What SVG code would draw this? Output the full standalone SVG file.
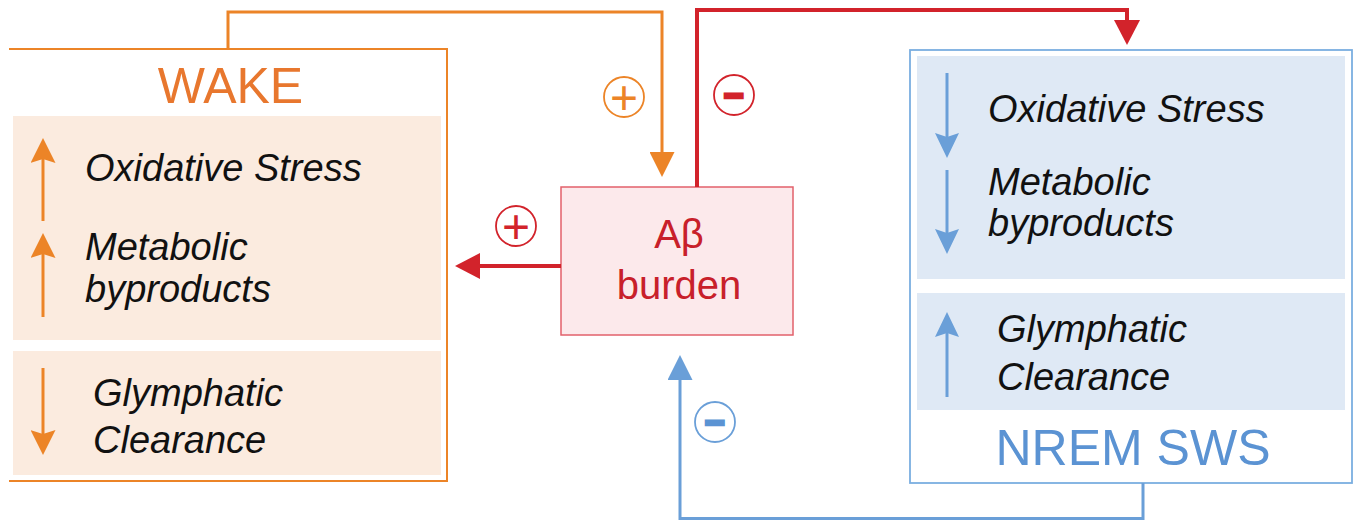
<svg xmlns="http://www.w3.org/2000/svg" width="1355" height="521" viewBox="0 0 1355 521">
  <style>
    .item { font-family: "Liberation Sans", Arial, sans-serif; font-style: italic; font-size: 38px; fill: #111111; }
    .title { font-family: "Liberation Sans", Arial, sans-serif; font-size: 50px; text-anchor: middle; }
    .core { font-family: "Liberation Sans", Arial, sans-serif; font-size: 40px; fill: #c8202a; text-anchor: middle; }
    .sign { font-family: "Liberation Sans", Arial, sans-serif; text-anchor: middle; }
    .badge { fill: #ffffff; stroke-width: 1.8; }
    .conn { fill: none; stroke-linejoin: miter; }
  </style>
  <defs>
    <!-- connector heads: plain triangles, base at the line end -->
    <marker id="head-orange" markerUnits="userSpaceOnUse" viewBox="0 0 25 25" refX="0" refY="12.5" markerWidth="25" markerHeight="25" orient="auto">
      <path d="M0,0 L25,12.5 L0,25 Z" fill="#ec8427"/>
    </marker>
    <marker id="head-red" markerUnits="userSpaceOnUse" viewBox="0 0 25 26" refX="0" refY="13" markerWidth="25" markerHeight="26" orient="auto">
      <path d="M0,0 L25,13 L0,26 Z" fill="#d2232b"/>
    </marker>
    <marker id="head-blue" markerUnits="userSpaceOnUse" viewBox="0 0 25 25" refX="0" refY="12.5" markerWidth="25" markerHeight="25" orient="auto">
      <path d="M0,0 L25,12.5 L0,25 Z" fill="#6a9fd8"/>
    </marker>
    <!-- trend arrows inside the panels: notched heads -->
    <marker id="tick-orange" markerUnits="userSpaceOnUse" viewBox="0 0 25 25" refX="4" refY="12.5" markerWidth="25" markerHeight="25" orient="auto">
      <path d="M25,12.5 L0,0 L4,12.5 L0,25 Z" fill="#ec8427"/>
    </marker>
    <marker id="tick-blue" markerUnits="userSpaceOnUse" viewBox="0 0 25 24" refX="4" refY="12" markerWidth="25" markerHeight="24" orient="auto">
      <path d="M25,12 L0,0 L4,12 L0,24 Z" fill="#6a9fd8"/>
    </marker>
  </defs>

  <!-- WAKE state -->
  <g id="wake">
    <path d="M9,49 H447 V481 H9" fill="none" stroke="#ec8427" stroke-width="2"/>
    <text class="title" x="230.5" y="103" fill="#e8772e">WAKE</text>
    <rect x="13" y="116" width="428" height="224" fill="#fbebdf"/>
    <rect x="13" y="351" width="428" height="124" fill="#fbebdf"/>
    <g stroke="#ec8427" stroke-width="3">
      <line x1="43" y1="221" x2="43" y2="159" marker-end="url(#tick-orange)"/>
      <line x1="43" y1="317" x2="43" y2="254" marker-end="url(#tick-orange)"/>
      <line x1="43" y1="368" x2="43" y2="434" marker-end="url(#tick-orange)"/>
    </g>
    <text class="item" x="85" y="181">Oxidative Stress</text>
    <text class="item" x="85" y="260">Metabolic</text>
    <text class="item" x="85" y="302">byproducts</text>
    <text class="item" x="93" y="406">Glymphatic</text>
    <text class="item" x="93" y="453">Clearance</text>
  </g>

  <!-- amyloid-beta burden -->
  <g id="abeta">
    <rect x="561" y="187" width="232" height="148" fill="#fce9eb" stroke="#e2606b" stroke-width="1.5"/>
    <text class="core" x="679" y="248">Aβ</text>
    <text class="core" x="679" y="299">burden</text>
  </g>

  <!-- NREM slow-wave sleep state -->
  <g id="nrem">
    <rect x="910" y="50" width="442" height="433" fill="#ffffff" stroke="#7aaee0" stroke-width="1.8"/>
    <rect x="917" y="56" width="428" height="223" fill="#dfe9f5"/>
    <rect x="917" y="293" width="428" height="117" fill="#dfe9f5"/>
    <g stroke="#6a9fd8" stroke-width="3">
      <line x1="947" y1="73" x2="947" y2="137" marker-end="url(#tick-blue)"/>
      <line x1="947" y1="170" x2="947" y2="233" marker-end="url(#tick-blue)"/>
      <line x1="947" y1="397" x2="947" y2="333" marker-end="url(#tick-blue)"/>
    </g>
    <text class="item" x="988" y="122">Oxidative Stress</text>
    <text class="item" x="988" y="195">Metabolic</text>
    <text class="item" x="988" y="236">byproducts</text>
    <text class="item" x="997" y="342">Glymphatic</text>
    <text class="item" x="997" y="390">Clearance</text>
    <text class="title" x="1133" y="465" font-size="51" fill="#5b93d3">NREM SWS</text>
  </g>

  <!-- feedback connectors -->
  <g id="connectors">
    <path class="conn" d="M228,49 V12 H662 V152" stroke="#ec8427" stroke-width="3" marker-end="url(#head-orange)"/>
    <path class="conn" d="M697,187 V10 H1127 V20" stroke="#d2232b" stroke-width="4" marker-end="url(#head-red)"/>
    <path class="conn" d="M561,266 H480" stroke="#d2232b" stroke-width="4" marker-end="url(#head-red)"/>
    <path class="conn" d="M1143,483 V518.5 H680 V380" stroke="#6a9fd8" stroke-width="3" marker-end="url(#head-blue)"/>
  </g>

  <!-- sign badges -->
  <g id="sign-wake-plus">
    <circle class="badge" cx="624" cy="97" r="20" stroke="#ec8427"/>
    <text class="sign" x="624" y="114" font-size="48" fill="#ec8427">+</text>
  </g>
  <g id="sign-sleep-minus">
    <circle class="badge" cx="734" cy="95" r="20" stroke="#d2232b"/>
    <text class="sign" x="734" y="107" font-size="34" font-weight="bold" fill="#d2232b" stroke="#d2232b" stroke-width="3">−</text>
  </g>
  <g id="sign-abeta-plus">
    <circle class="badge" cx="516" cy="226" r="20" stroke="#d2232b"/>
    <text class="sign" x="516" y="243" font-size="48" fill="#d2232b">+</text>
  </g>
  <g id="sign-nrem-minus">
    <circle class="badge" cx="715" cy="422" r="20" stroke="#6a9fd8"/>
    <text class="sign" x="715" y="434" font-size="34" font-weight="bold" fill="#5b93d3" stroke="#5b93d3" stroke-width="3">−</text>
  </g>
</svg>
